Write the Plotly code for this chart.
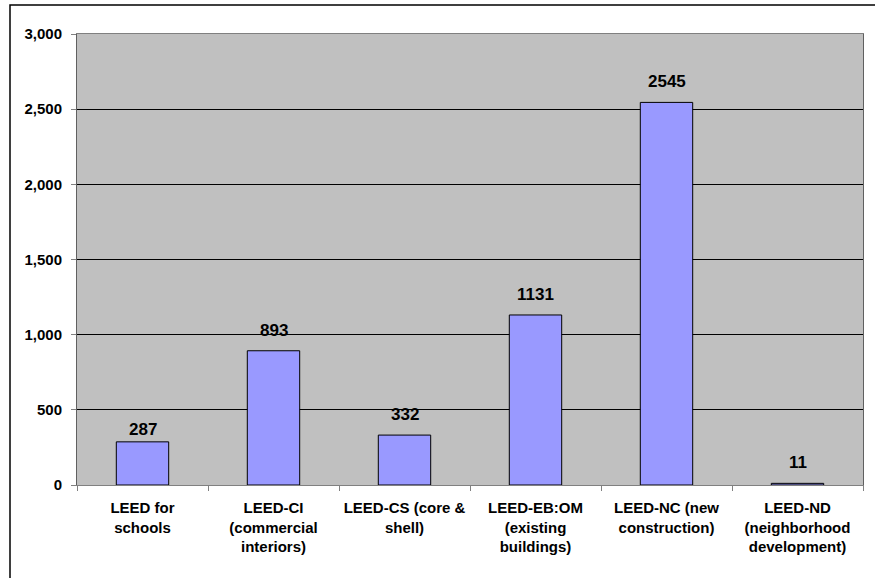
import plotly.graph_objects as go

categories = [
    "LEED for<br>schools",
    "LEED-CI<br>(commercial<br>interiors)",
    "LEED-CS (core &<br>shell)",
    "LEED-EB:OM<br>(existing<br>buildings)",
    "LEED-NC (new<br>construction)",
    "LEED-ND<br>(neighborhood<br>development)",
]
values = [287, 893, 332, 1131, 2545, 11]
y_ticks = [0, 500, 1000, 1500, 2000, 2500, 3000]
y_labels = ["0", "500", "1,000", "1,500", "2,000", "2,500", "3,000"]

# style: pixel offset of each data label above its bar
label_shift = [1, 9, 9, 9, 9, 9]

FONT = "Liberation Sans, Arial, sans-serif"

fig = go.Figure(go.Bar(
    x=categories, y=values,
    marker=dict(color="#9999FF", line=dict(color="black", width=1)),
    width=0.4,
))

for c, v, s in zip(categories, values, label_shift):
    fig.add_annotation(
        x=c, y=v, text=str(v), showarrow=False,
        xanchor="center", yanchor="bottom", yshift=s,
        font=dict(family=FONT, size=17, color="black", weight="bold"),
    )

fig.update_layout(
    width=875, height=578,
    margin=dict(l=77, r=12, t=34, b=93),
    paper_bgcolor="white",
    plot_bgcolor="#C0C0C0",
    showlegend=False,
    font=dict(family=FONT, color="black"),
    xaxis=dict(
        tickson="boundaries", ticks="outside", ticklen=5, tickcolor="#808080",
        showline=True, linecolor="#808080", mirror=True, showgrid=False,
        ticklabelstandoff=9,
        tickfont=dict(family=FONT, size=15, weight="bold"),
    ),
    yaxis=dict(
        range=[0, 3000], tickvals=y_ticks, ticktext=y_labels,
        ticks="outside", ticklen=5, tickcolor="#808080",
        showline=True, linecolor="#606060", mirror=True,
        showgrid=True, gridcolor="black", gridwidth=1,
        zeroline=False,
        ticklabelstandoff=6,
        tickfont=dict(family=FONT, size=15, weight="bold"),
    ),
    shapes=[dict(type="rect", xref="paper", yref="paper",
                 x0=-67/786, x1=(875 - 77 + 10) / 786,
                 y0=-(578 - 485 + 20) / 451, y1=(485 - 5) / 451,
                 line=dict(color="black", width=1.5), fillcolor="rgba(0,0,0,0)",
                 layer="above")],
)

fig.write_html("out.html")
